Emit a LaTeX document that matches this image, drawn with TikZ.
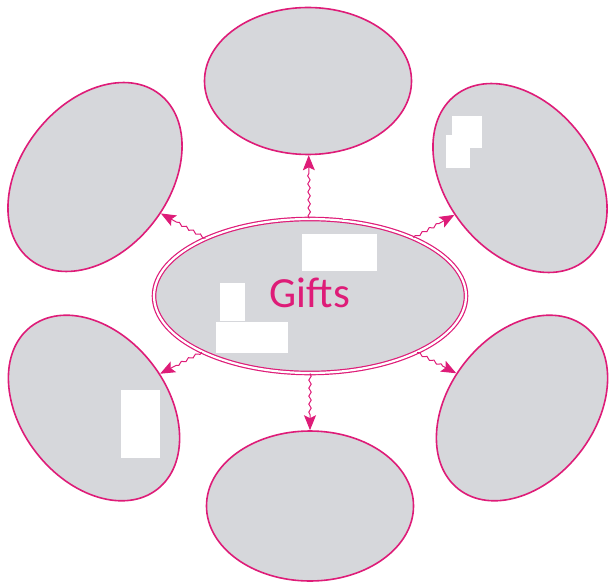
\documentclass[tikz,border=0pt]{standalone}
\usepackage{fontspec}
\setmainfont{Carlito}
\usetikzlibrary{shapes.geometric,arrows.meta,decorations.pathmorphing}
\definecolor{gpink}{RGB}{222,28,120}
\definecolor{gfill}{RGB}{214,215,219}
\tikzset{
  bubble/.style={ellipse, draw=gpink, line width=1.6pt, fill=gfill, inner sep=0pt},
  hub/.style={ellipse, draw=gpink, line width=1.2pt, double=white, double distance=2.2pt, fill=gfill, inner sep=0pt},
  link/.style={draw=gpink, line width=1pt, -{Stealth[length=15pt,width=12pt,inset=3pt]},
    decorate, decoration={snake, amplitude=1.2pt, segment length=8pt, post length=15pt}},
  mask/.style={fill=white, draw=none}
}
\begin{document}
\begin{tikzpicture}[x=1pt,y=-1pt]
\useasboundingbox (0,0) rectangle (609,585);
\node[hub, minimum width=312pt, minimum height=154pt] (c) at (310,296) {};
\node[bubble, minimum width=207pt, minimum height=147pt] (t) at (308,81) {};
\node[bubble, minimum width=207pt, minimum height=150pt] (b) at (310,506) {};
\node[bubble, minimum width=210pt, minimum height=148pt, rotate=52] (tl) at (95,177) {};
\node[bubble, minimum width=210pt, minimum height=148pt, rotate=-52] (tr) at (520,178) {};
\node[bubble, minimum width=206pt, minimum height=146pt, rotate=-52] (bl) at (94,408) {};
\node[bubble, minimum width=206pt, minimum height=146pt, rotate=52] (br) at (522,408) {};
\node[text=gpink, font=\fontsize{43}{48}\selectfont] (g) at (310,293) {Gifts};
\draw[link] (c) -- (t);
\draw[link] (c) -- (b);
\draw[link] (c) -- (tl);
\draw[link] (c) -- (tr);
\draw[link] (c) -- (bl);
\draw[link] (c) -- (br);
\fill[mask] (302,234) rectangle (377,271);
\fill[mask] (220,283) rectangle (245,321);
\fill[mask] (216,322) rectangle (288,353);
\fill[mask] (343,190) rectangle (427,219);
\fill[mask] (452,116) rectangle (482,148);
\fill[mask] (446,135) rectangle (470,168);
\fill[mask] (121,390) rectangle (160,458);
\end{tikzpicture}
\end{document}
